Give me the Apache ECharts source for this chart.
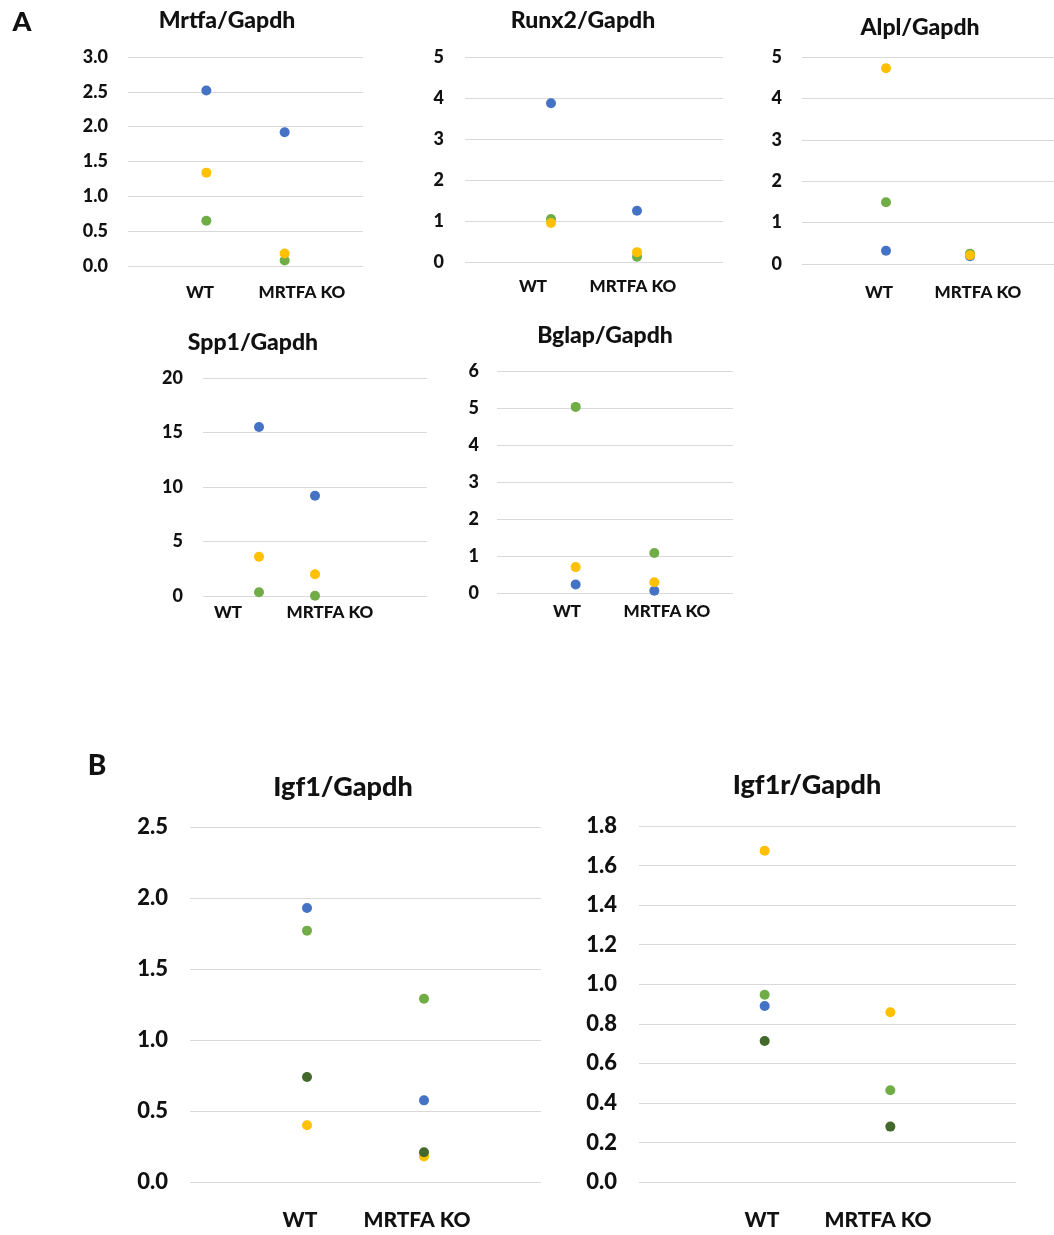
<!DOCTYPE html>
<html>
<head>
<meta charset="utf-8">
<script src="https://cdn.jsdelivr.net/npm/echarts@6/dist/echarts.min.js"></script>
<style>
  html, body { margin: 0; padding: 0; background: #fff; }
  #chart { width: 1054px; height: 1235px; }
</style>
</head>
<body>
<div id="chart"></div>
<script>
// Groups on the x axis (placed at x = 1 and x = 2)
const groups = ['WT', 'MRTFA KO'];

// Relative expression per replicate: [WT, MRTFA KO]
const mrtfaRep1 = [2.52, 1.92];
const mrtfaRep2 = [1.34, 0.18];
const mrtfaRep3 = [0.65, 0.08];

const runx2Rep1 = [3.87, 1.25];
const runx2Rep2 = [0.95, 0.24];
const runx2Rep3 = [1.05, 0.13];

const alplRep1 = [0.32, 0.19];
const alplRep2 = [4.73, 0.21];
const alplRep3 = [1.49, 0.25];

const spp1Rep1 = [15.5, 9.2];
const spp1Rep2 = [3.6, 2.0];
const spp1Rep3 = [0.34, 0.03];

const bglapRep1 = [0.23, 0.06];
const bglapRep2 = [0.70, 0.29];
const bglapRep3 = [5.03, 1.08];

const igf1Rep1 = [1.93, 0.575];
const igf1Rep2 = [0.40, 0.18];
const igf1Rep3 = [1.77, 1.29];
const igf1Rep4 = [0.74, 0.21];

const igf1rRep1 = [0.89, null];
const igf1rRep2 = [1.675, 0.858];
const igf1rRep3 = [0.947, 0.464];
const igf1rRep4 = [0.713, 0.28];

// y-axis tick settings per panel
const mrtfaTicks = { max: 3, interval: 0.5, decimals: 1 };
const runx2Ticks = { max: 5, interval: 1, decimals: 0 };
const alplTicks  = { max: 5, interval: 1, decimals: 0 };
const spp1Ticks  = { max: 20, interval: 5, decimals: 0 };
const bglapTicks = { max: 6, interval: 1, decimals: 0 };
const igf1Ticks  = { max: 2.5, interval: 0.5, decimals: 1 };
const igf1rTicks = { max: 1.8, interval: 0.2, decimals: 1 };

const COLORS = { rep1: '#4472C4', rep2: '#FFC000', rep3: '#70AD47', rep4: '#43682B' };
const FONT = 'Lato, "Open Sans", sans-serif';
const WEIGHT = 900;
const TEXT = '#111';

const panels = [
  { title: 'Mrtfa/Gapdh', ticks: mrtfaTicks, reps: [mrtfaRep1, mrtfaRep3, mrtfaRep2], cols: ['rep1','rep3','rep2'],
    grid: { left: 128, top: 57, width: 235, height: 209 }, xMax: 3, titlePos: [227, 21], labelPos: [[200, 293], [302, 293]],
    tickSize: 18, titleSize: 23, catSize: 17, margin: 20, symbol: 10 },
  { title: 'Runx2/Gapdh', ticks: runx2Ticks, reps: [runx2Rep1, runx2Rep3, runx2Rep2], cols: ['rep1','rep3','rep2'],
    grid: { left: 465, top: 57, width: 258, height: 205 }, xMax: 3, titlePos: [583, 21], labelPos: [[533, 287], [633, 287]],
    tickSize: 18, titleSize: 23, catSize: 17, margin: 21, symbol: 10 },
  { title: 'Alpl/Gapdh', ticks: alplTicks, reps: [alplRep1, alplRep3, alplRep2], cols: ['rep1','rep3','rep2'],
    grid: { left: 802, top: 57, width: 260, height: 207 }, xMax: 3, titlePos: [920, 28], labelPos: [[879, 293], [978, 293]],
    tickSize: 18, titleSize: 23, catSize: 17, margin: 20, symbol: 10 },
  { title: 'Spp1/Gapdh', ticks: spp1Ticks, reps: [spp1Rep1, spp1Rep3, spp1Rep2], cols: ['rep1','rep3','rep2'],
    grid: { left: 203, top: 378, width: 224, height: 218 }, xMax: 4, titlePos: [253, 343], labelPos: [[228, 613], [330, 613]],
    tickSize: 18, titleSize: 23, catSize: 17, margin: 20, symbol: 10 },
  { title: 'Bglap/Gapdh', ticks: bglapTicks, reps: [bglapRep1, bglapRep3, bglapRep2], cols: ['rep1','rep3','rep2'],
    grid: { left: 497, top: 371, width: 236, height: 222 }, xMax: 3, titlePos: [605, 336], labelPos: [[567, 612], [667, 612]],
    tickSize: 18, titleSize: 23, catSize: 17, margin: 18, symbol: 10 },
  { title: 'Igf1/Gapdh', ticks: igf1Ticks, reps: [igf1Rep1, igf1Rep3, igf1Rep2, igf1Rep4], cols: ['rep1','rep3','rep2','rep4'],
    grid: { left: 190, top: 827, width: 351, height: 355 }, xMax: 3, titlePos: [343, 787], labelPos: [[300, 1220], [417, 1220]],
    tickSize: 22, titleSize: 27, catSize: 21, margin: 22, symbol: 10 },
  { title: 'Igf1r/Gapdh', ticks: igf1rTicks, reps: [igf1rRep1, igf1rRep3, igf1rRep2, igf1rRep4], cols: ['rep1','rep3','rep2','rep4'],
    grid: { left: 639, top: 826, width: 377, height: 356 }, xMax: 3, titlePos: [807, 785], labelPos: [[762, 1220], [878, 1220]],
    tickSize: 22, titleSize: 27, catSize: 21, margin: 22, symbol: 10 }
];

const grids = [], xAxes = [], yAxes = [], series = [], graphics = [];

panels.forEach((p, i) => {
  grids.push(Object.assign({ containLabel: false }, p.grid));
  xAxes.push({
    gridIndex: i, type: 'value', min: 0, max: p.xMax,
    show: false, splitLine: { show: false }
  });
  yAxes.push({
    gridIndex: i, type: 'value', min: 0, max: p.ticks.max, interval: p.ticks.interval,
    axisLine: { show: false }, axisTick: { show: false },
    splitLine: { show: true, lineStyle: { color: '#d9d9d9', width: 1 } },
    axisLabel: {
      margin: p.margin, color: TEXT, fontFamily: FONT, fontWeight: WEIGHT, fontSize: p.tickSize,
      formatter: v => v.toFixed(p.ticks.decimals)
    }
  });
  p.reps.forEach((vals, k) => {
    series.push({
      type: 'scatter', xAxisIndex: i, yAxisIndex: i,
      symbolSize: p.symbol,
      itemStyle: { color: COLORS[p.cols[k]], opacity: 1 },
      data: vals.map((v, g) => [g + 1, v]).filter(d => d[1] !== null),
      silent: true, animation: false
    });
  });
  graphics.push({
    type: 'text', x: p.titlePos[0], y: p.titlePos[1],
    style: { text: p.title, fill: TEXT, align: 'center', verticalAlign: 'middle',
             font: `${WEIGHT} ${p.titleSize}px ${FONT}` }
  });
  groups.forEach((g, j) => {
    graphics.push({
      type: 'text', x: p.labelPos[j][0], y: p.labelPos[j][1],
      style: { text: g, fill: TEXT, align: 'center', verticalAlign: 'middle',
               font: `${WEIGHT} ${p.catSize}px ${FONT}` }
    });
  });
});

// Panel letters
graphics.push({ type: 'text', x: 22, y: 22,
  style: { text: 'A', fill: TEXT, align: 'center', verticalAlign: 'middle', font: `${WEIGHT} 27px ${FONT}` } });
graphics.push({ type: 'text', x: 97, y: 766,
  style: { text: 'B', fill: TEXT, align: 'center', verticalAlign: 'middle', font: `${WEIGHT} 28px ${FONT}` } });

const chart = echarts.init(document.getElementById('chart'), null, { renderer: 'canvas' });
chart.setOption({
  backgroundColor: '#ffffff',
  animation: false,
  grid: grids,
  xAxis: xAxes,
  yAxis: yAxes,
  series: series,
  graphic: graphics
});
</script>
</body>
</html>
